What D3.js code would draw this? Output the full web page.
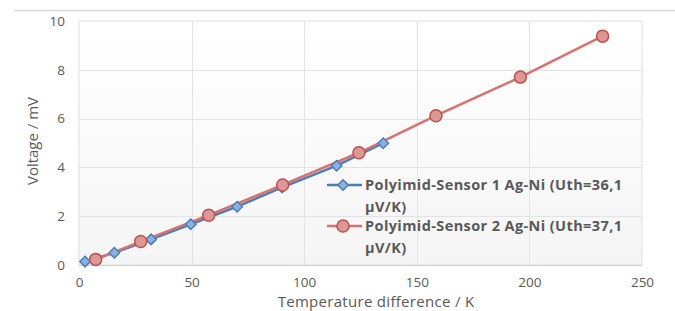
<!DOCTYPE html>
<html><head><meta charset="utf-8">
<script src="https://cdn.jsdelivr.net/npm/d3@7"></script>
<style>
html,body{margin:0;padding:0;background:#fff;}
svg{display:block;}
</style></head>
<body>
<svg id="c" width="675" height="311"></svg>
<script>
const xTicks = [0, 50, 100, 150, 200, 250];
const yTicks = [0, 2, 4, 6, 8, 10];
const s1x = [2.7, 15.7, 32, 49.6, 70.2, 90.2, 114.4, 135.1];
const s1y = [0.14, 0.50, 1.05, 1.67, 2.39, 3.18, 4.07, 4.99];
const s2x = [7.4, 27.4, 57.6, 90.4, 124.3, 158.5, 196, 232.5];
const s2y = [0.23, 0.96, 2.04, 3.28, 4.60, 6.12, 7.70, 9.38];
const seriesNames = ["Polyimid-Sensor 1 Ag-Ni (Uth=36,1", "Polyimid-Sensor 2 Ag-Ni (Uth=37,1"];
const seriesUnits = ["\u00b5V/K)", "\u00b5V/K)"];
const xTitle = "Temperature difference / K";
const yTitle = "Voltage / mV";

const svg = d3.select("#c");
const L = 79, R = 642, T = 21, B = 265;
const x = d3.scaleLinear().domain([0, 250]).range([L, R]);
const y = d3.scaleLinear().domain([0, 10]).range([B, T]);
const font = "'Open Sans', 'Liberation Sans', sans-serif";
const txt = "#595959";

// top separator line
svg.append("line").attr("x1", 14).attr("x2", 675).attr("y1", 10.5).attr("y2", 10.5)
  .attr("stroke", "#d9d9d9").attr("stroke-width", 1.5);

// plot background with subtle gradient
const defs = svg.append("defs");
const g1 = defs.append("linearGradient").attr("id", "bg").attr("x1", 0).attr("y1", 0).attr("x2", 0).attr("y2", 1);
g1.append("stop").attr("offset", "0").attr("stop-color", "#ffffff");
g1.append("stop").attr("offset", "1").attr("stop-color", "#f5f5f5");
svg.append("rect").attr("x", L).attr("y", T).attr("width", R - L).attr("height", B - T)
  .attr("fill", "url(#bg)").attr("stroke", "#e0e0e0");

// grid
svg.append("g").selectAll("line").data(xTicks.slice(1, -1)).join("line")
  .attr("x1", d => Math.round(x(d)) + 0.5).attr("x2", d => Math.round(x(d)) + 0.5)
  .attr("y1", T).attr("y2", B).attr("stroke", "#e3e3e3");
svg.append("g").selectAll("line").data(yTicks.slice(1, -1)).join("line")
  .attr("y1", d => Math.round(y(d)) + 0.5).attr("y2", d => Math.round(y(d)) + 0.5)
  .attr("x1", L).attr("x2", R).attr("stroke", "#e3e3e3");
svg.append("line").attr("x1", L).attr("x2", R).attr("y1", B + 0.5).attr("y2", B + 0.5).attr("stroke", "#d0d0d0");

// axes
const xa = svg.append("g").attr("transform", `translate(0,${B})`)
  .call(d3.axisBottom(x).tickValues(xTicks).tickSize(0).tickPadding(12));
const ya = svg.append("g").attr("transform", `translate(${L},0)`)
  .call(d3.axisLeft(y).tickValues(yTicks).tickSize(0).tickPadding(14));
[xa, ya].forEach(a => {
  a.select(".domain").remove();
  a.selectAll("text").attr("fill", txt).style("font-family", font).style("font-size", "13.5px");
});

// titles
svg.append("text").attr("x", 376).attr("y", 307).attr("text-anchor", "middle")
  .attr("fill", txt).style("font-family", font).style("font-size", "15px").style("letter-spacing", "0.3px").text(xTitle);
svg.append("text").attr("transform", "translate(38,141) rotate(-90)").attr("text-anchor", "middle")
  .attr("fill", txt).style("font-family", font).style("font-size", "15px").text(yTitle);

// series
const line = d3.line().x(d => x(d[0])).y(d => y(d[1]));
const d1 = s1x.map((v, i) => [v, s1y[i]]);
const d2 = s2x.map((v, i) => [v, s2y[i]]);
const blueLine = "#4A7EBB", blueFill = "#8DB0DD";
const redLine = "#D9726F", redStroke = "#C0504D", redFill = "#DA9896";

svg.append("path").datum(d1).attr("d", line).attr("fill", "none").attr("stroke", blueLine).attr("stroke-width", 2.5);
svg.append("path").datum(d2).attr("d", line).attr("fill", "none").attr("stroke", redLine).attr("stroke-width", 2.5);

const diamond = d3.symbol().type(d3.symbolDiamond2).size(70);
svg.append("g").selectAll("path").data(d1).join("path")
  .attr("transform", d => `translate(${x(d[0])},${y(d[1])})`)
  .attr("d", diamond).attr("fill", blueFill).attr("stroke", blueLine).attr("stroke-width", 1.5);
svg.append("g").selectAll("circle").data(d2).join("circle")
  .attr("cx", d => x(d[0])).attr("cy", d => y(d[1])).attr("r", 6)
  .attr("fill", redFill).attr("stroke", redStroke).attr("stroke-width", 1.5);

// legend
const lg = svg.append("g");
const ly = [185, 226];
[0, 1].forEach(i => {
  const col = i === 0 ? blueLine : redLine;
  lg.append("line").attr("x1", 327).attr("x2", 362).attr("y1", ly[i]).attr("y2", ly[i])
    .attr("stroke", col).attr("stroke-width", 2.5);
  if (i === 0) {
    lg.append("path").attr("transform", `translate(343,${ly[i]})`).attr("d", diamond)
      .attr("fill", blueFill).attr("stroke", blueLine).attr("stroke-width", 1.5);
  } else {
    lg.append("circle").attr("cx", 343).attr("cy", ly[i]).attr("r", 6)
      .attr("fill", redFill).attr("stroke", redStroke).attr("stroke-width", 1.5);
  }
  lg.append("text").attr("x", 365).attr("y", ly[i] + 5).attr("fill", txt)
    .style("font-family", font).style("font-size", "14.5px").style("font-weight", "700")
    .style("letter-spacing", "0.4px").text(seriesNames[i]);
  lg.append("text").attr("x", 365).attr("y", ly[i] + 27).attr("fill", txt)
    .style("font-family", font).style("font-size", "14.5px").style("font-weight", "700")
    .style("letter-spacing", "0.4px").text(seriesUnits[i]);
});
</script>
</body></html>
